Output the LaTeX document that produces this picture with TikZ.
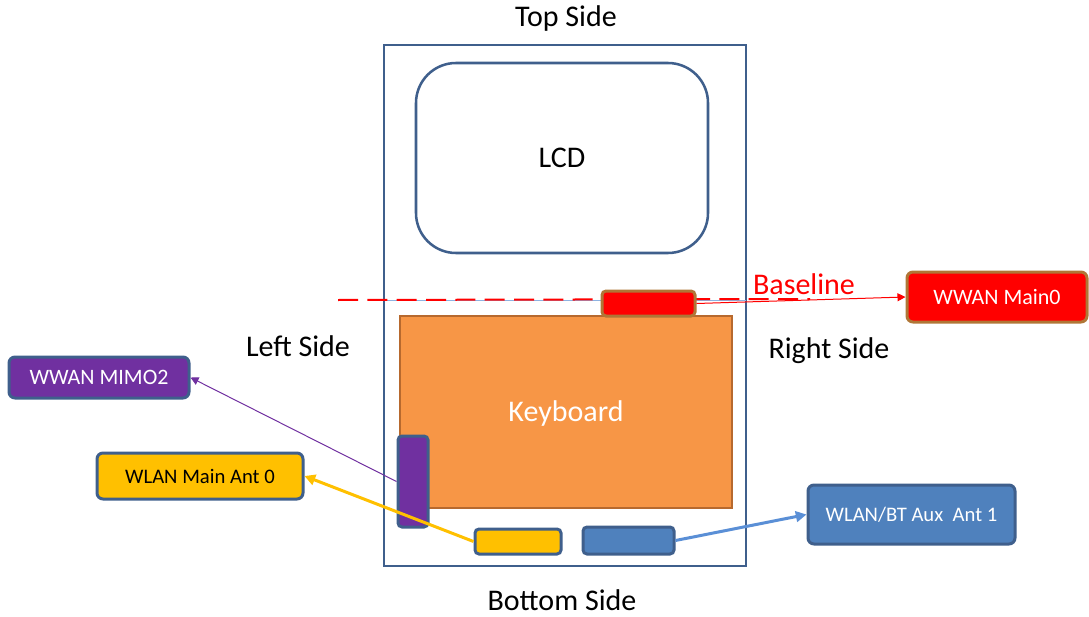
\documentclass[tikz,border=0pt]{standalone}
\usepackage{fontspec}
\setmainfont{Carlito}
\usetikzlibrary{arrows.meta}
\definecolor{bblue}{HTML}{3F5F8C}
\definecolor{kbor}{HTML}{F79646}
\definecolor{kborline}{HTML}{B7692E}
\definecolor{brown}{HTML}{B07636}
\definecolor{purp}{HTML}{7030A0}
\definecolor{yel}{HTML}{FFC000}
\definecolor{lblue}{HTML}{4F81BD}
\definecolor{arrblue}{HTML}{5A8FD6}
\definecolor{lineblue}{HTML}{8DB3E2}
\tikzset{
  big/.style={font=\fontsize{22.5pt}{26pt}\selectfont},
  lab/.style={font=\fontsize{15.5pt}{18pt}\selectfont},
  labb/.style={font=\fontsize{16.5pt}{19pt}\selectfont},
  box/.style={draw=bblue, line width=2.25pt, rounded corners=4.5pt, inner sep=0pt},
  thinarr/.style={-{Triangle[length=6pt,width=6pt]}, line width=0.75pt},
  thickarr/.style={-{Triangle[length=8pt,width=8pt]}, line width=2.25pt},
}
\begin{document}
\begin{tikzpicture}[x=0.75pt,y=-0.75pt]
\useasboundingbox (0,0) rectangle (1089,617);
% outer case
\node[draw=bblue, line width=1.5pt, minimum width=271.5pt, minimum height=390.75pt, inner sep=0pt] (case) at (565,305.5) {};
\node[draw=bblue, line width=1.9pt, rounded corners=30pt, minimum width=219pt, minimum height=142.5pt, inner sep=0pt] (lcd) at (562,158) {};
\node[big] (lcdt) at (562,158) {LCD};
% texts
\node[big] (top) at (566,19) {Top Side};
\node[big] (bottom) at (562,600) {Bottom Side};
\node[big] (left) at (298,346) {Left Side};
\node[big] (right) at (829,351) {Right Side};
% baseline
\coordinate (bl1) at (384,300);
\coordinate (bl2) at (746,300);
\draw[lineblue, line width=0.75pt] (bl1) -- (bl2);
\coordinate (d1) at (338,300);
\coordinate (d2) at (810,299);
\draw[red, line width=1.5pt, dash pattern=on 15pt off 7pt] (d1) -- (d2);
\node[big, text=red] (base) at (804,284) {Baseline};
% keyboard
\node[draw=kborline, fill=kbor, line width=1.9pt, minimum width=249pt, minimum height=144pt, inner sep=0pt] (kb) at (566,412) {};
\node[big, text=white] (kbt) at (566,413) {Keyboard};
% modules
\node[draw=brown, fill=red, line width=2.25pt, rounded corners=3pt, minimum width=69.75pt, minimum height=18.75pt, inner sep=0pt] (redm) at (648.5,303.5) {};
\node[box, fill=purp, rounded corners=3pt, minimum width=22.5pt, minimum height=68.25pt] (purm) at (413,481.5) {};
\node[box, fill=yel, rounded corners=3pt, minimum width=64.5pt, minimum height=18.75pt] (yelm) at (518,541.5) {};
\node[box, fill=lblue, rounded corners=3pt, minimum width=68.25pt, minimum height=20.25pt] (blum) at (628.5,540.5) {};
% labels
\node[draw=brown, fill=red, line width=2.25pt, rounded corners=4.5pt, inner sep=0pt, minimum width=135pt, minimum height=37.5pt, labb, text=white] (main0) at (997,297) {WWAN Main0};
\node[box, fill=purp, minimum width=135pt, minimum height=30.75pt, labb, text=white] (mimo) at (99,377.5) {WWAN MIMO2};
\node[box, fill=yel, minimum width=154.5pt, minimum height=34.5pt, lab, text=black] (wlan) at (200,476) {WLAN Main Ant 0};
\node[box, fill=lblue, minimum width=155.25pt, minimum height=44.25pt, lab, text=white] (wlanbt) at (911.5,514.5) {WLAN/BT Aux\ \ Ant 1};
% connectors
\draw[thinarr, red] (redm.east) -- (main0.west);
\draw[thinarr, purp] (purm.west) -- (mimo.east);
\draw[thickarr, yel] (yelm.west) -- (wlan.east);
\draw[thickarr, arrblue] (blum.east) -- (wlanbt.west);
\end{tikzpicture}
\end{document}
